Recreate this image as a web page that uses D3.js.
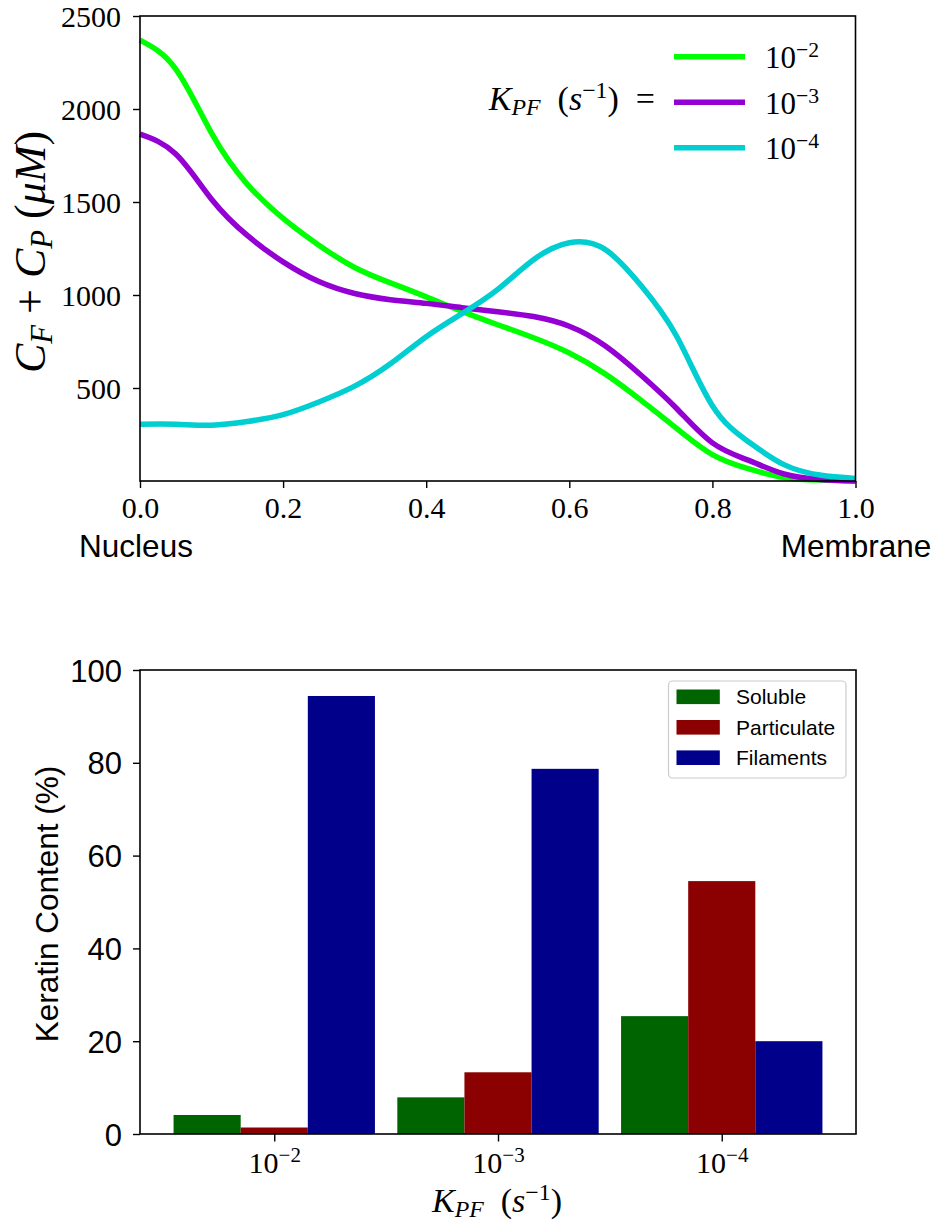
<!DOCTYPE html>
<html>
<head>
<meta charset="utf-8">
<script src="https://cdn.jsdelivr.net/npm/d3@7"></script>
<style>
  body { margin: 0; background: #ffffff; }
  svg { display: block; }
</style>
</head>
<body>
<svg id="fig" width="937" height="1222"></svg>
<script>
// ---- Profile data: total keratin C_F + C_P along the nucleus-membrane axis ----
const positions = [0, 0.05, 0.1, 0.15, 0.2, 0.25, 0.3, 0.35, 0.4, 0.45, 0.5,
                   0.55, 0.6, 0.65, 0.7, 0.75, 0.8, 0.85, 0.9, 0.95, 1.0];
const totalRate2 = [2370, 2215, 1870, 1595, 1412, 1268, 1148, 1065, 990, 912, 840,
                    770, 688, 576, 435, 283, 142, 66, 19, 5, 0];
const totalRate3 = [1865, 1758, 1515, 1320, 1178, 1072, 1008, 975, 955, 932, 910,
                    884, 832, 727, 570, 390, 205, 112, 38, 8, 0];
const totalRate4 = [305, 305, 300, 320, 357, 425, 510, 630, 776, 900, 1030,
                    1190, 1281, 1245, 1052, 778, 405, 212, 88, 32, 14];
const rateExponents = ["2", "3", "4"];
const lineColors = ["#00ff00", "#9400d3", "#00ced1"];
const concTicks = [500, 1000, 1500, 2000, 2500];
const posTicks = [0, 0.2, 0.4, 0.6, 0.8, 1.0];

// ---- Bar data: keratin content per fraction (%) ----
const fractionNames = ["Soluble", "Particulate", "Filaments"];
const soluble = [4.1, 7.9, 25.4];
const particulate = [1.4, 13.3, 54.5];
const filaments = [94.4, 78.7, 20.0];
const barColors = ["#006400", "#8b0000", "#00008b"];
const contentTicks = [0, 20, 40, 60, 80, 100];

const SERIF = "'Liberation Serif', 'DejaVu Serif', serif";
const SANS = "'Liberation Sans', Arial, Helvetica, sans-serif";
const MINUS = "\u2212";

const svg = d3.select("#fig");

// Typeset a run of math-like parts: {t, it, sub, sup}
function mathText(parent, parts, size) {
  const text = parent.append("text")
    .attr("font-family", SERIF)
    .attr("font-size", size)
    .attr("fill", "#000");
  let shift = 0;
  parts.forEach(p => {
    const target = p.sub ? size * 0.15 : (p.sup ? -size * 0.36 : 0);
    const ts = text.append("tspan").text(p.t);
    if (target - shift !== 0) ts.attr("dy", target - shift);
    if (p.sub || p.sup) ts.attr("font-size", size * 0.7);
    if (p.it) ts.attr("font-style", "italic");
    shift = target;
  });
  return text;
}

function powerOfTen(exp) {
  return [{ t: "10" }, { t: MINUS + exp, sup: true }];
}

// ================= Top panel: concentration profiles =================
const profBox = { left: 140, right: 855.5, top: 16, bottom: 481 };
const xPos = d3.scaleLinear().domain([0, 1]).range([profBox.left, profBox.right]);
const yConc = d3.scaleLinear().domain([0, 2500]).range([profBox.bottom, profBox.top]);

const gTop = svg.append("g");

const series = [totalRate2, totalRate3, totalRate4];
const line = d3.line()
  .x((d, i) => xPos(positions[i]))
  .y(d => yConc(d))
  .curve(d3.curveNatural);

series.forEach((vals, k) => {
  gTop.append("path")
    .datum(vals)
    .attr("d", line)
    .attr("fill", "none")
    .attr("stroke", lineColors[k])
    .attr("stroke-width", 5.5)
    .attr("stroke-linejoin", "round");
});

// axes
const axTopX = gTop.append("g")
  .attr("transform", `translate(0,${profBox.bottom})`)
  .call(d3.axisBottom(xPos).tickValues(posTicks).tickFormat(d3.format(".1f"))
    .tickSize(7).tickPadding(9));
const axTopY = gTop.append("g")
  .attr("transform", `translate(${profBox.left},0)`)
  .call(d3.axisLeft(yConc).tickValues(concTicks).tickFormat(d3.format("d"))
    .tickSize(7).tickPadding(12));
[axTopX, axTopY].forEach(a => {
  a.select(".domain").remove();
  a.selectAll(".tick line").attr("stroke", "#000").attr("stroke-width", 1.4);
  a.selectAll(".tick text").attr("font-family", SERIF).attr("font-size", 30).attr("fill", "#000");
});
axTopX.selectAll(".tick text").attr("dy", "0.71em");
axTopY.selectAll(".tick text").attr("dy", "0.34em");

gTop.append("rect")
  .attr("x", profBox.left).attr("y", profBox.top)
  .attr("width", profBox.right - profBox.left).attr("height", profBox.bottom - profBox.top)
  .attr("fill", "none").attr("stroke", "#000").attr("stroke-width", 1.6);

// end labels
gTop.append("text").attr("x", 136).attr("y", 556.5)
  .attr("text-anchor", "middle").attr("font-family", SANS).attr("font-size", 31.5)
  .text("Nucleus");
gTop.append("text").attr("x", 856).attr("y", 556.5)
  .attr("text-anchor", "middle").attr("font-family", SANS).attr("font-size", 31.5)
  .text("Membrane");

// y label
const yLab = mathText(gTop, [
  { t: "C", it: true }, { t: "F", it: true, sub: true },
  { t: " + " },
  { t: "C", it: true }, { t: "P", it: true, sub: true },
  { t: " (" }, { t: "\u03bcM", it: true }, { t: ")" }
], 44);
yLab.attr("text-anchor", "middle")
  .attr("transform", "translate(45,252) rotate(-90)");

// legend
const legY = [56.7, 102.3, 147.7];
rateExponents.forEach((e, k) => {
  gTop.append("line")
    .attr("x1", 674).attr("x2", 745)
    .attr("y1", legY[k]).attr("y2", legY[k])
    .attr("stroke", lineColors[k]).attr("stroke-width", 5.5);
  mathText(gTop, powerOfTen(e), 31)
    .attr("x", 765).attr("y", legY[k] + 11.5);
});
mathText(gTop, [
  { t: "K", it: true }, { t: "PF", it: true, sub: true },
  { t: "\u2002(" }, { t: "s", it: true }, { t: MINUS + "1", sup: true }, { t: ")\u2002=" }
], 34).attr("text-anchor", "end").attr("x", 655).attr("y", 110);

// ================= Bottom panel: keratin content bars =================
const barBox = { left: 140, right: 856, top: 670, bottom: 1134 };
const xGrp = d3.scaleLinear().domain([-0.6, 2.6]).range([barBox.left, barBox.right]);
const yPct = d3.scaleLinear().domain([0, 100]).range([barBox.bottom, barBox.top]);
const barW = 0.3;

const gBot = svg.append("g");
const fractions = [soluble, particulate, filaments];

fractions.forEach((vals, k) => {
  gBot.selectAll(null)
    .data(vals)
    .enter().append("rect")
    .attr("x", (d, i) => xGrp(i + (k - 1) * barW - barW / 2))
    .attr("width", xGrp(barW) - xGrp(0))
    .attr("y", d => yPct(d))
    .attr("height", d => yPct(0) - yPct(d))
    .attr("fill", barColors[k]);
});

const axBotY = gBot.append("g")
  .attr("transform", `translate(${barBox.left},0)`)
  .call(d3.axisLeft(yPct).tickValues(contentTicks).tickFormat(d3.format("d"))
    .tickSize(7).tickPadding(11));
axBotY.select(".domain").remove();
axBotY.selectAll(".tick line").attr("stroke", "#000").attr("stroke-width", 1.4);
axBotY.selectAll(".tick text").attr("font-family", SANS).attr("font-size", 31)
  .attr("fill", "#000").attr("dy", "0.36em");

const axBotX = gBot.append("g")
  .attr("transform", `translate(0,${barBox.bottom})`)
  .call(d3.axisBottom(xGrp).tickValues([0, 1, 2]).tickFormat("").tickSize(7.5));
axBotX.select(".domain").remove();
axBotX.selectAll(".tick line").attr("stroke", "#000").attr("stroke-width", 1.4);
axBotX.selectAll(".tick").each(function (d, i) {
  mathText(d3.select(this), powerOfTen(rateExponents[i]), 30)
    .attr("text-anchor", "middle").attr("x", 0).attr("y", 38.5);
});

gBot.append("rect")
  .attr("x", barBox.left).attr("y", barBox.top)
  .attr("width", barBox.right - barBox.left).attr("height", barBox.bottom - barBox.top)
  .attr("fill", "none").attr("stroke", "#000").attr("stroke-width", 1.6);

gBot.append("text")
  .attr("transform", "translate(58,904) rotate(-90)")
  .attr("text-anchor", "middle").attr("font-family", SANS).attr("font-size", 31.5)
  .text("Keratin Content (%)");

mathText(gBot, [
  { t: "K", it: true }, { t: "PF", it: true, sub: true },
  { t: "\u2002(" }, { t: "s", it: true }, { t: MINUS + "1", sup: true }, { t: ")" }
], 34).attr("text-anchor", "middle").attr("x", 497).attr("y", 1212);

// legend
const lg = gBot.append("g");
lg.append("rect")
  .attr("x", 668.5).attr("y", 681).attr("width", 177.5).attr("height", 97)
  .attr("rx", 4).attr("fill", "#ffffff").attr("fill-opacity", 0.8)
  .attr("stroke", "#cccccc").attr("stroke-width", 1.2);
const rowY = [696.8, 727.3, 757.7];
fractionNames.forEach((name, k) => {
  lg.append("rect")
    .attr("x", 676.5).attr("y", rowY[k] - 7.3)
    .attr("width", 43.3).attr("height", 14.6)
    .attr("fill", barColors[k]);
  lg.append("text")
    .attr("x", 736).attr("y", rowY[k] + 7.6)
    .attr("font-family", SANS).attr("font-size", 21)
    .text(name);
});
</script>
</body>
</html>
